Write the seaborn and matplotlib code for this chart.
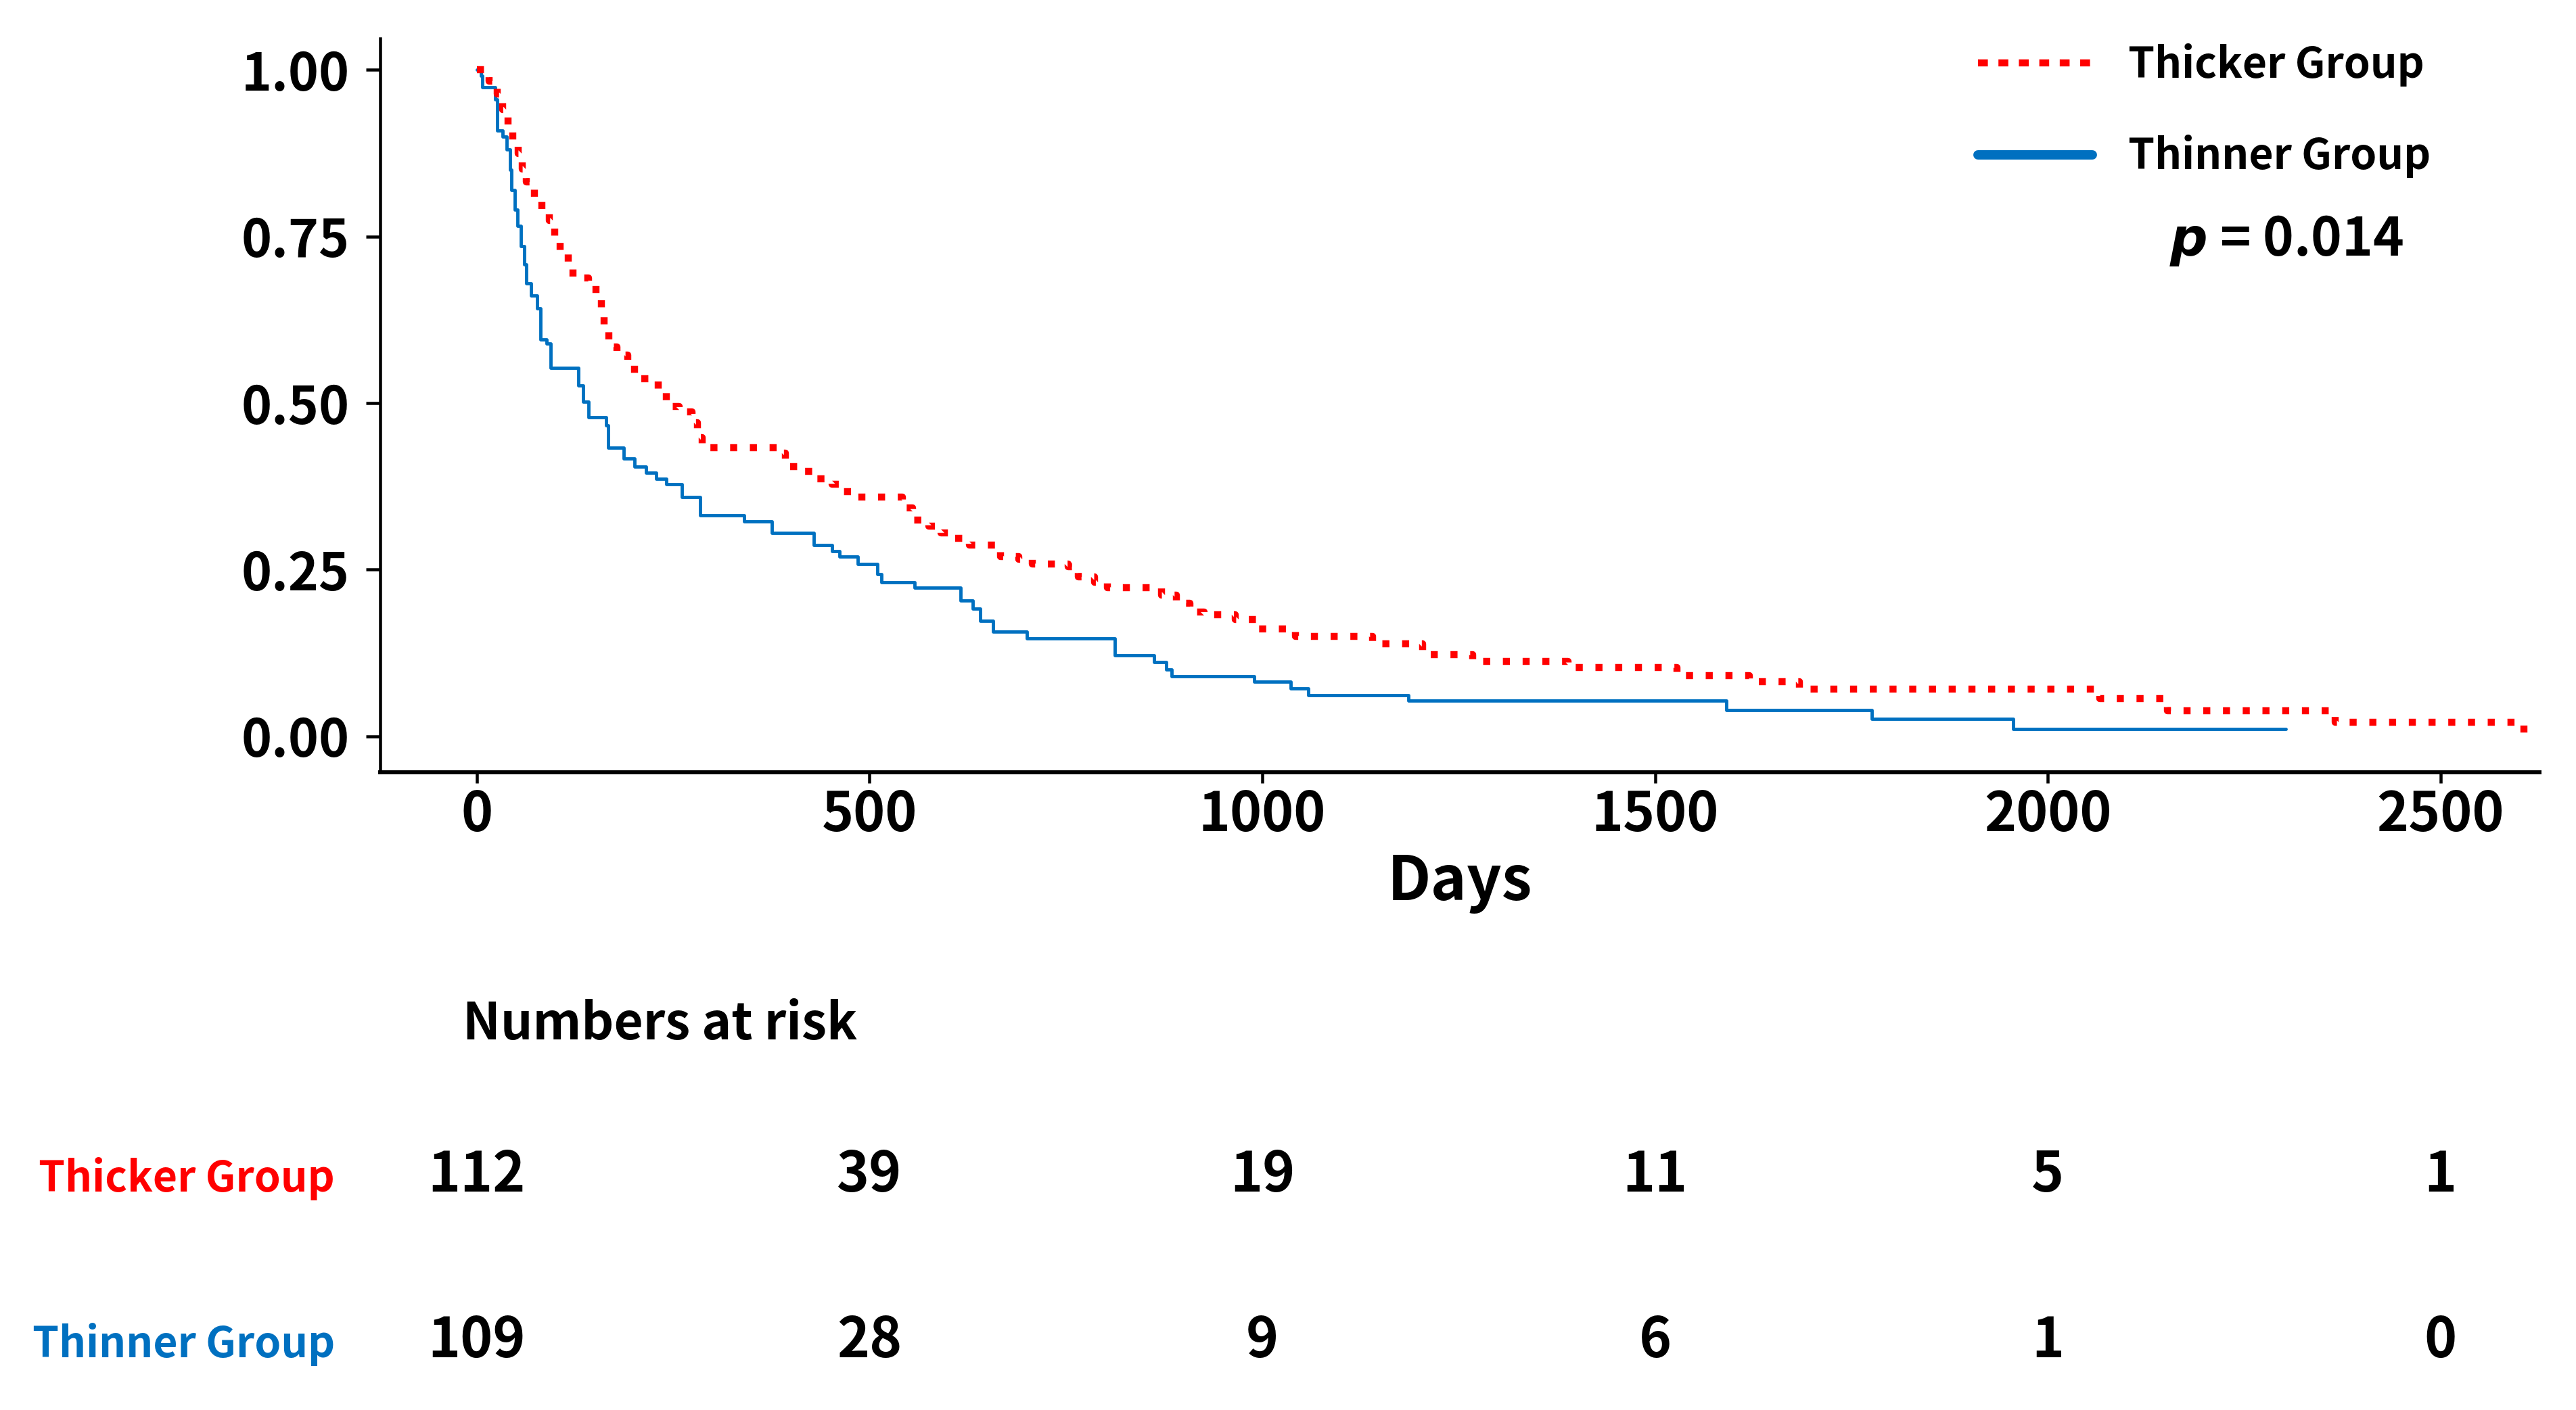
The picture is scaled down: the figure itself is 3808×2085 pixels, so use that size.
import pandas as pd
import seaborn as sns
import matplotlib.pyplot as plt
import matplotlib.transforms as mtransforms
from matplotlib.lines import Line2D

# Kaplan-Meier curves (days, survival)
thick_days = [0, 16, 26, 33, 40, 46, 53, 58, 63, 73, 83, 92, 99, 106, 116, 122, 142, 152, 159, 162,
              168, 178, 192, 201, 225, 231, 241, 258, 274, 281, 287, 386, 393, 410, 429, 452, 466, 485, 542, 555,
              575, 591, 608, 627, 667, 690, 707, 753, 766, 786, 803, 872, 891, 908, 926, 966, 995, 1042, 1140, 1204,
              1268, 1389, 1528, 1620, 1684, 2066, 2152, 2366, 2606, 2612]
thick_surv = [1.0, 0.983, 0.964, 0.94, 0.917, 0.894, 0.874, 0.851, 0.832, 0.809, 0.789, 0.774, 0.75, 0.727, 0.708, 0.688, 0.681, 0.661, 0.634, 0.611,
              0.584, 0.572, 0.557, 0.537, 0.533, 0.518, 0.495, 0.487, 0.471, 0.448, 0.433, 0.425, 0.405, 0.398, 0.386, 0.378, 0.367, 0.359, 0.343, 0.324,
              0.315, 0.305, 0.297, 0.287, 0.27, 0.266, 0.258, 0.254, 0.239, 0.231, 0.223, 0.212, 0.200, 0.186, 0.182, 0.175, 0.161, 0.150, 0.139, 0.123,
              0.112, 0.103, 0.091, 0.082, 0.071, 0.057, 0.038, 0.021, 0.005, 0.005]

thin_days = [0, 5, 7, 23, 26, 33, 38, 42, 44, 48, 52, 56, 60, 63, 69, 77, 81, 89, 94, 129,
             135, 142, 165, 167, 187, 201, 215, 228, 241, 261, 284, 340, 376, 429, 452, 462, 485, 510, 515, 557,
             616, 631, 641, 657, 700, 812, 862, 878, 885, 990, 1036, 1059, 1186, 1591, 1776, 1956, 2303]
thin_surv = [1.0, 0.991, 0.974, 0.956, 0.909, 0.90, 0.88, 0.85, 0.82, 0.79, 0.766, 0.735, 0.708, 0.68, 0.661, 0.642, 0.595, 0.589, 0.553, 0.526,
             0.502, 0.479, 0.467, 0.433, 0.417, 0.405, 0.395, 0.386, 0.378, 0.359, 0.332, 0.322, 0.305, 0.287, 0.278, 0.270, 0.258, 0.243, 0.231, 0.223,
             0.204, 0.192, 0.173, 0.157, 0.147, 0.121, 0.111, 0.100, 0.090, 0.082, 0.072, 0.062, 0.054, 0.039, 0.026, 0.011, 0.011]

groups = ['Thicker Group', 'Thinner Group']
risk_days = [0, 500, 1000, 1500, 2000, 2500]
thick_risk = [112, 39, 19, 11, 5, 1]
thin_risk = [109, 28, 9, 6, 1, 0]
p_text = '0.014'

cor_thick = '#FF0000'
cor_thin = '#0070C0'

sns.set_style('ticks')
plt.rcParams['font.family'] = ['Noto Sans CJK KR', 'DejaVu Sans']
plt.rcParams['font.weight'] = 'bold'
plt.rcParams['mathtext.fontset'] = 'custom'
plt.rcParams['mathtext.it'] = 'DejaVu Sans:italic:bold'
for k in ['text.color', 'axes.edgecolor', 'axes.labelcolor', 'xtick.color', 'ytick.color']:
	plt.rcParams[k] = 'black'

df_thick = pd.DataFrame({'Days': thick_days, 'Surv': thick_surv})
df_thin = pd.DataFrame({'Days': thin_days, 'Surv': thin_surv})

fig = plt.figure(figsize=(15.232, 8.34), dpi=250)
ax = fig.add_axes([0.1476, 0.4523, 0.9858 - 0.1476, 0.9727 - 0.4523])

sns.lineplot(data=df_thin, x='Days', y='Surv', ax=ax, color=cor_thin, lw=1.4,
             drawstyle='steps-post', estimator=None, legend=False)
sns.lineplot(data=df_thick, x='Days', y='Surv', ax=ax, color=cor_thick, lw=3,
             linestyle=(0, (1, 1.8)), drawstyle='steps-post', estimator=None, legend=False)

ax.set_xlim(-123, 2626)
ax.set_ylim(-0.054, 1.047)
ax.set_xticks(risk_days)
ax.set_yticks([0, 0.25, 0.5, 0.75, 1.0])
ax.set_yticklabels(['0.00', '0.25', '0.50', '0.75', '1.00'])
ax.tick_params(axis='y', labelsize=22, length=6, width=1.3, pad=7)
ax.tick_params(axis='x', labelsize=23, length=4.5, width=1.3, pad=2)
for lab in ax.get_xticklabels() + ax.get_yticklabels():
	lab.set_fontweight('bold')

for spine in ['top', 'right']:
	ax.spines[spine].set_visible(False)
ax.spines['left'].set_linewidth(1.3)
ax.spines['bottom'].set_linewidth(1.7)

ax.set_xlabel('Days', fontsize=26, fontweight='bold', labelpad=4)
ax.set_ylabel('')

# legenda
handles = [Line2D([], [], color=cor_thick, lw=3, linestyle=(0, (1.4, 1.5))),
           Line2D([], [], color=cor_thin, lw=4)]
fig.legend(handles, groups, loc='upper left', bbox_to_anchor=(2924 / 3808, 0.9695),
           frameon=False, fontsize=18, handlelength=2.7, handletextpad=0.85,
           labelspacing=1.15, borderpad=0, borderaxespad=0)

fig.text(3207 / 3808, 1 - 378 / 2085, r'$\mathit{p}$' + ' = ' + p_text, fontsize=22.4,
         fontweight='bold', ha='left', va='baseline')

# tabela numbers at risk
fig.text(684 / 3808, 1 - 1537 / 2085, 'Numbers at risk', fontsize=21.5, fontweight='bold',
         ha='left', va='baseline')

trans = mtransforms.blended_transform_factory(ax.transData, fig.transFigure)
linhas = [(groups[0], thick_risk, cor_thick, 1 - 1762 / 2085),
          (groups[1], thin_risk, cor_thin, 1 - 2007 / 2085)]
for nome, valores, cor, y in linhas:
	fig.text(495 / 3808, y, nome, color=cor, fontsize=18, fontweight='bold',
	         ha='right', va='baseline')
	for d, v in zip(risk_days, valores):
		ax.text(d, y, str(v), transform=trans, fontsize=23.5, fontweight='bold',
		        ha='center', va='baseline', clip_on=False)

fig.savefig('out.png', dpi=250)
